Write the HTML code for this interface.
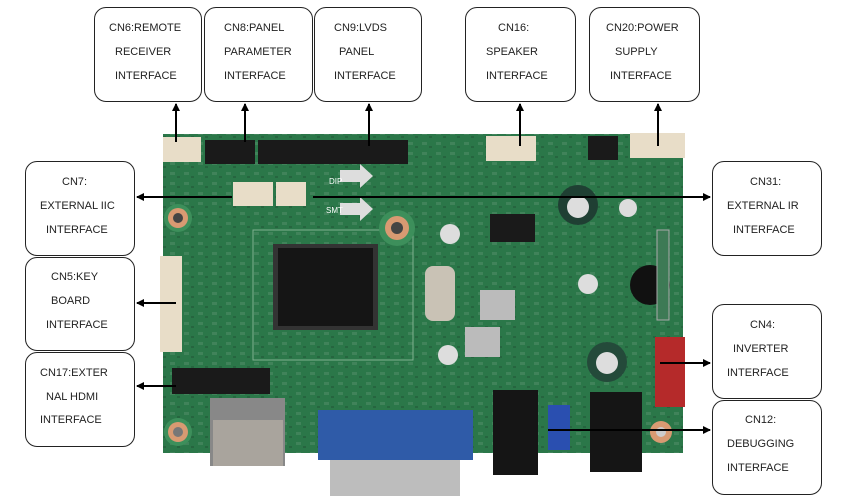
<!DOCTYPE html>
<html><head><meta charset="utf-8"><style>
html,body{margin:0;padding:0;background:#fff;}
body{width:850px;height:496px;overflow:hidden;position:relative;font-family:"Liberation Sans",sans-serif;}
.b{position:absolute;border:1.3px solid #222;border-radius:12px;background:#fff;box-sizing:border-box;}
.t{position:absolute;font-size:11px;color:#222;white-space:nowrap;}
svg{position:absolute;left:0;top:0;}
</style></head><body>
<svg width="850" height="496" viewBox="0 0 850 496">
<defs>
<marker id="a" markerWidth="8" markerHeight="8" refX="7" refY="4" orient="auto" markerUnits="userSpaceOnUse"><path d="M0,0 L8,4 L0,8 z" fill="#000"/></marker>
<pattern id="p" width="14" height="10" patternUnits="userSpaceOnUse"><rect x="2" y="2" width="5" height="3" fill="#6f9f80" opacity="0.6"/><rect x="9" y="6" width="3" height="2" fill="#1a3a28" opacity="0.6"/></pattern>
</defs>
<rect x="163" y="134" width="520" height="319" fill="#2b7749"/>
<rect x="163" y="134" width="520" height="319" fill="url(#p)" opacity="0.5"/>
<rect x="253" y="230" width="160" height="130" fill="none" stroke="#7fb08f" stroke-width="1"/>
<rect x="273" y="244" width="105" height="86" fill="#333"/>
<rect x="278" y="248" width="95" height="78" fill="#151515"/>
<circle cx="178" cy="218" r="14" fill="#3d8f5b"/><circle cx="178" cy="218" r="10" fill="#d89a72"/><circle cx="178" cy="218" r="5" fill="#444"/>
<circle cx="397" cy="228" r="18" fill="#3d8f5b"/><circle cx="397" cy="228" r="12" fill="#d89a72"/><circle cx="397" cy="228" r="6" fill="#444"/>
<circle cx="178" cy="432" r="14" fill="#3d8f5b"/><circle cx="178" cy="432" r="10" fill="#d89a72"/><circle cx="178" cy="432" r="5" fill="#777"/>
<circle cx="661" cy="432" r="11" fill="#d89a72"/><circle cx="661" cy="432" r="5" fill="#ccc"/>
<rect x="163" y="137" width="38" height="25" fill="#e8ddc8"/>
<rect x="205" y="140" width="50" height="24" fill="#1a1a1a"/>
<rect x="258" y="140" width="150" height="24" fill="#1a1a1a"/>
<rect x="486" y="136" width="50" height="25" fill="#e8ddc8"/>
<rect x="588" y="136" width="30" height="24" fill="#1a1a1a"/>
<rect x="630" y="133" width="55" height="25" fill="#e8ddc8"/>
<rect x="233" y="182" width="40" height="24" fill="#e8ddc8"/>
<rect x="276" y="182" width="30" height="24" fill="#e8ddc8"/>
<path d="M340,170 L360,170 L360,164 L373,176 L360,188 L360,182 L340,182z" fill="#ddd"/>
<path d="M340,203 L360,203 L360,197 L373,209 L360,221 L360,215 L340,215z" fill="#ddd"/>
<text x="329" y="184" font-size="8" fill="#fff" font-family="Liberation Sans">DIP</text>
<text x="326" y="213" font-size="8" fill="#fff" font-family="Liberation Sans">SMT</text>
<rect x="160" y="256" width="22" height="96" fill="#e8ddc8"/>
<rect x="172" y="368" width="98" height="26" fill="#1a1a1a"/>
<rect x="210" y="398" width="75" height="68" fill="#888"/>
<rect x="213" y="420" width="70" height="46" fill="#a9a49d"/>
<rect x="318" y="410" width="155" height="50" fill="#2f5ba8"/>
<rect x="330" y="460" width="130" height="36" fill="#bdbdbd"/>
<circle cx="578" cy="205" r="20" fill="#1f3f33"/><circle cx="578" cy="207" r="11" fill="#ddd"/>
<circle cx="628" cy="208" r="9" fill="#ddd"/>
<circle cx="450" cy="234" r="10" fill="#ddd"/>
<rect x="490" y="214" width="45" height="28" fill="#1a1a1a"/>
<circle cx="650" cy="285" r="20" fill="#111"/>
<circle cx="588" cy="284" r="10" fill="#ddd"/>
<rect x="425" y="266" width="30" height="55" rx="8" fill="#c9c2b5"/>
<rect x="480" y="290" width="35" height="30" fill="#bbb"/>
<rect x="465" y="327" width="35" height="30" fill="#bbb"/>
<circle cx="448" cy="355" r="10" fill="#ddd"/>
<circle cx="607" cy="362" r="20" fill="#244a3a"/><circle cx="607" cy="363" r="11" fill="#ddd"/>
<rect x="655" y="337" width="30" height="70" fill="#b52a2a"/>
<rect x="493" y="390" width="45" height="85" fill="#151515"/>
<rect x="548" y="405" width="22" height="45" fill="#2a4fb0"/>
<rect x="590" y="392" width="52" height="80" fill="#151515"/>
<rect x="657" y="230" width="12" height="90" fill="#3d7a55" stroke="#aaa"/>
<g stroke="#000" stroke-width="2" fill="none">
<line x1="176" y1="142" x2="176" y2="104" marker-end="url(#a)"/>
<line x1="245" y1="142" x2="245" y2="104" marker-end="url(#a)"/>
<line x1="369" y1="146" x2="369" y2="104" marker-end="url(#a)"/>
<line x1="520" y1="146" x2="520" y2="104" marker-end="url(#a)"/>
<line x1="658" y1="146" x2="658" y2="104" marker-end="url(#a)"/>
<line x1="232" y1="197" x2="137" y2="197" marker-end="url(#a)"/>
<line x1="313" y1="197" x2="710" y2="197" marker-end="url(#a)"/>
<line x1="176" y1="303" x2="137" y2="303" marker-end="url(#a)"/>
<line x1="176" y1="386" x2="137" y2="386" marker-end="url(#a)"/>
<line x1="660" y1="363" x2="710" y2="363" marker-end="url(#a)"/>
<line x1="548" y1="430" x2="710" y2="430" marker-end="url(#a)"/>
</g>
</svg>
<div class="b" style="left:94px;top:7px;width:108px;height:95px"></div>
<div class="b" style="left:204px;top:7px;width:109px;height:95px"></div>
<div class="b" style="left:314px;top:7px;width:108px;height:95px"></div>
<div class="b" style="left:465px;top:7px;width:111px;height:95px"></div>
<div class="b" style="left:589px;top:7px;width:111px;height:95px"></div>
<div class="b" style="left:25px;top:161px;width:110px;height:95px"></div>
<div class="b" style="left:25px;top:257px;width:110px;height:94px"></div>
<div class="b" style="left:25px;top:352px;width:110px;height:95px"></div>
<div class="b" style="left:712px;top:161px;width:110px;height:95px"></div>
<div class="b" style="left:712px;top:304px;width:110px;height:95px"></div>
<div class="b" style="left:712px;top:400px;width:110px;height:95px"></div>

<div class="t" style="left:109px;top:22px">CN6:REMOTE</div>
<div class="t" style="left:115px;top:46px">RECEIVER</div>
<div class="t" style="left:115px;top:70px">INTERFACE</div>
<div class="t" style="left:224px;top:22px">CN8:PANEL</div>
<div class="t" style="left:224px;top:46px">PARAMETER</div>
<div class="t" style="left:224px;top:70px">INTERFACE</div>
<div class="t" style="left:334px;top:22px">CN9:LVDS</div>
<div class="t" style="left:339px;top:46px">PANEL</div>
<div class="t" style="left:334px;top:70px">INTERFACE</div>
<div class="t" style="left:498px;top:22px">CN16:</div>
<div class="t" style="left:486px;top:46px">SPEAKER</div>
<div class="t" style="left:486px;top:70px">INTERFACE</div>
<div class="t" style="left:606px;top:22px">CN20:POWER</div>
<div class="t" style="left:615px;top:46px">SUPPLY</div>
<div class="t" style="left:610px;top:70px">INTERFACE</div>
<div class="t" style="left:62px;top:176px">CN7:</div>
<div class="t" style="left:40px;top:200px">EXTERNAL IIC</div>
<div class="t" style="left:46px;top:224px">INTERFACE</div>
<div class="t" style="left:51px;top:271px">CN5:KEY</div>
<div class="t" style="left:51px;top:295px">BOARD</div>
<div class="t" style="left:46px;top:319px">INTERFACE</div>
<div class="t" style="left:40px;top:367px">CN17:EXTER</div>
<div class="t" style="left:46px;top:391px">NAL HDMI</div>
<div class="t" style="left:40px;top:414px">INTERFACE</div>
<div class="t" style="left:750px;top:176px">CN31:</div>
<div class="t" style="left:727px;top:200px">EXTERNAL IR</div>
<div class="t" style="left:733px;top:224px">INTERFACE</div>
<div class="t" style="left:750px;top:319px">CN4:</div>
<div class="t" style="left:733px;top:343px">INVERTER</div>
<div class="t" style="left:727px;top:367px">INTERFACE</div>
<div class="t" style="left:745px;top:414px">CN12:</div>
<div class="t" style="left:727px;top:438px">DEBUGGING</div>
<div class="t" style="left:727px;top:462px">INTERFACE</div>
</body></html>
